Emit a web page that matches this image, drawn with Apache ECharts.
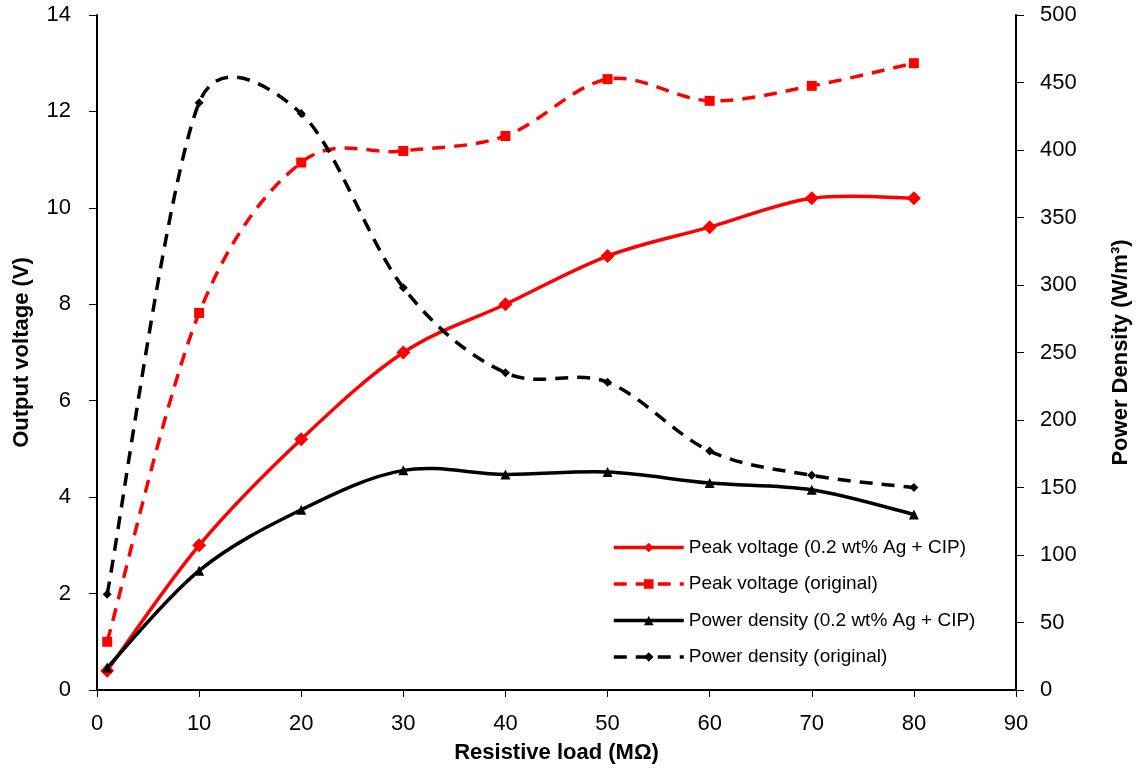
<!DOCTYPE html>
<html>
<head>
<meta charset="utf-8">
<script src="https://cdn.jsdelivr.net/npm/echarts@6/dist/echarts.min.js"></script>
<style>
html,body{margin:0;padding:0;background:#fff;}
#chart{width:1140px;height:771px;}
</style>
</head>
<body>
<div id="chart"></div>
<script>
const xValues = [1, 10, 20, 30, 40, 50, 60, 70, 80];
const peakAgCIP = [0.4, 3.0, 5.2, 7.0, 8.0, 9.0, 9.6, 10.2, 10.2];
const peakOriginal = [1.0, 7.82, 10.94, 11.18, 11.49, 12.67, 12.22, 12.53, 13.0];
const powerAgCIP = [16.6, 88.4, 133.5, 162.7, 159.7, 161.4, 153.3, 148.3, 130];
const powerOriginal = [71, 435, 427, 298, 235, 228, 177, 159, 150];
const seriesNames = [
  'Peak voltage (0.2 wt% Ag + CIP)',
  'Peak voltage (original)',
  'Power density (0.2 wt% Ag + CIP)',
  'Power density (original)'
];

function pairs(ys) { return xValues.map((x, i) => [x, ys[i]]); }

// Spreadsheet-style smoothed curve through pixel points (tangent = (next - prev)/6,
// capped at half the segment length).
function smoothPath(pts) {
  const n = pts.length;
  let d = 'M' + pts[0][0] + ' ' + pts[0][1];
  function tangent(a, b, segLen) {
    let tx = (b[0] - a[0]) / 6, ty = (b[1] - a[1]) / 6;
    const len = Math.hypot(tx, ty);
    const cap = segLen / 2;
    if (len > cap && len > 0) { tx *= cap / len; ty *= cap / len; }
    return [tx, ty];
  }
  for (let i = 0; i < n - 1; i++) {
    const p0 = pts[Math.max(i - 1, 0)], p1 = pts[i], p2 = pts[i + 1], p3 = pts[Math.min(i + 2, n - 1)];
    const segLen = Math.hypot(p2[0] - p1[0], p2[1] - p1[1]);
    const t1 = tangent(p0, p2, segLen);
    const t2 = tangent(p1, p3, segLen);
    d += ' C' + (p1[0] + t1[0]) + ' ' + (p1[1] + t1[1]) + ' ' +
         (p2[0] - t2[0]) + ' ' + (p2[1] - t2[1]) + ' ' + p2[0] + ' ' + p2[1];
  }
  return d;
}

let curveCount = 0;
function curveSeries(values, axisIndex, color, dash) {
  curveCount += 1;
  return {
    name: '_curve_' + curveCount,
    type: 'custom', yAxisIndex: axisIndex, silent: true, z: 1,
    data: pairs(values), encode: { x: 0, y: 1 },
    renderItem: function (params, api) {
      if (params.dataIndex !== 0) return null;
      const pts = xValues.map((x, i) => api.coord([x, values[i]]));
      return {
        type: 'path',
        shape: { pathData: smoothPath(pts) },
        style: { fill: 'none', stroke: color, lineWidth: 3.5, lineDash: dash || null, lineCap: 'butt' }
      };
    }
  };
}

const chart = echarts.init(document.getElementById('chart'));
const font = '"Liberation Sans", Arial, sans-serif';
const dashPat = [13, 9];
const option = {
  animation: false,
  backgroundColor: '#ffffff',
  grid: { left: 97, right: 116, top: 15, bottom: 81, containLabel: false },
  legend: {
    orient: 'vertical',
    left: 607,
    top: 533,
    itemWidth: 70,
    itemHeight: 12,
    itemGap: 17.5,
    textStyle: { fontFamily: font, fontSize: 19, color: '#000' },
    data: [
      { name: seriesNames[0], lineStyle: { opacity: 1, width: 3.5, color: '#ff0000', type: 'solid' } },
      { name: seriesNames[1], lineStyle: { opacity: 1, width: 3.5, color: '#ff0000', type: dashPat } },
      { name: seriesNames[2], lineStyle: { opacity: 1, width: 3.5, color: '#000000', type: 'solid' } },
      { name: seriesNames[3], lineStyle: { opacity: 1, width: 3.5, color: '#000000', type: dashPat } }
    ]
  },
  xAxis: {
    type: 'value', min: 0, max: 90, interval: 10,
    name: 'Resistive load (MΩ)', nameLocation: 'middle', nameGap: 52,
    nameTextStyle: { fontFamily: font, fontWeight: 'bold', fontSize: 22, color: '#000' },
    axisLine: { show: true, onZero: false, lineStyle: { color: '#000', width: 2 } },
    axisTick: { show: true, inside: false, length: 7, lineStyle: { color: '#000', width: 1 } },
    axisLabel: { fontFamily: font, fontSize: 22, color: '#000', margin: 23 },
    splitLine: { show: false }
  },
  yAxis: [
    {
      type: 'value', min: 0, max: 14, interval: 2,
      name: 'Output voltage (V)', nameLocation: 'middle', nameGap: 64, nameRotate: 90,
      nameTextStyle: { fontFamily: font, fontWeight: 'bold', fontSize: 22, color: '#000' },
      axisLine: { show: true, lineStyle: { color: '#000', width: 2 } },
      axisTick: { show: true, inside: false, length: 8, lineStyle: { color: '#000', width: 1 } },
      axisLabel: { fontFamily: font, fontSize: 22, color: '#000', margin: 26 },
      splitLine: { show: false }
    },
    {
      type: 'value', min: 0, max: 500, interval: 50, position: 'right',
      name: 'Power Density (W/m³)', nameLocation: 'middle', nameGap: 94, nameRotate: 90,
      nameTextStyle: { fontFamily: font, fontWeight: 'bold', fontSize: 22, color: '#000' },
      axisLine: { show: true, lineStyle: { color: '#000', width: 2 } },
      axisTick: { show: true, inside: false, length: 8, lineStyle: { color: '#000', width: 1 } },
      axisLabel: { fontFamily: font, fontSize: 22, color: '#000', margin: 24 },
      splitLine: { show: false }
    }
  ],
  series: [
    curveSeries(peakAgCIP, 0, '#ff0000', null),
    curveSeries(peakOriginal, 0, '#ff0000', dashPat),
    curveSeries(powerAgCIP, 1, '#000000', null),
    curveSeries(powerOriginal, 1, '#000000', dashPat),
    {
      name: seriesNames[0], type: 'line', yAxisIndex: 0, z: 3,
      data: pairs(peakAgCIP),
      symbol: 'diamond', symbolSize: [14, 14],
      itemStyle: { color: '#ff0000' },
      lineStyle: { color: '#ff0000', width: 3.5, opacity: 0 }
    },
    {
      name: seriesNames[1], type: 'line', yAxisIndex: 0, z: 3,
      data: pairs(peakOriginal),
      symbol: 'rect', symbolSize: 10,
      itemStyle: { color: '#ff0000' },
      lineStyle: { color: '#ff0000', width: 3.5, type: dashPat, opacity: 0 }
    },
    {
      name: seriesNames[2], type: 'line', yAxisIndex: 1, z: 3,
      data: pairs(powerAgCIP),
      symbol: 'triangle', symbolSize: 10,
      itemStyle: { color: '#000000' },
      lineStyle: { color: '#000000', width: 3.5, opacity: 0 }
    },
    {
      name: seriesNames[3], type: 'line', yAxisIndex: 1, z: 3,
      data: pairs(powerOriginal),
      symbol: 'diamond', symbolSize: [9, 9],
      itemStyle: { color: '#000000' },
      lineStyle: { color: '#000000', width: 3.5, type: dashPat, opacity: 0 }
    }
  ]
};
chart.setOption(option);
</script>
</body>
</html>
